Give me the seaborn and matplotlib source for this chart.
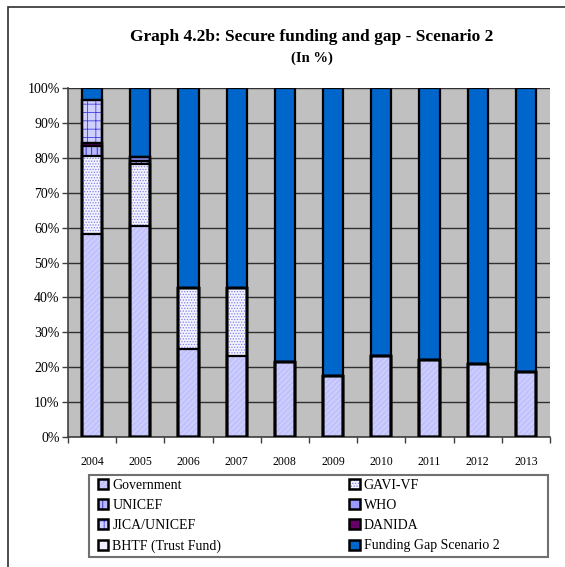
import numpy as np
import pandas as pd
import matplotlib
matplotlib.use("Agg")
import matplotlib.pyplot as plt
import matplotlib.patches as mpatches
from matplotlib.legend_handler import HandlerTuple
import seaborn as sns

years = ["2004", "2005", "2006", "2007", "2008", "2009", "2010", "2011", "2012", "2013"]
government = [58.2, 60.6, 25.1, 23.3, 21.6, 17.5, 23.2, 22.0, 20.9, 18.6]
gavi_vf    = [22.3, 17.5, 17.7, 19.5, 0, 0, 0, 0, 0, 0]
unicef     = [2.9, 1.1, 0, 0, 0, 0, 0, 0, 0, 0]
who        = [0, 1.0, 0, 0, 0, 0, 0, 0, 0, 0]
jica       = [12.3, 0, 0, 0, 0, 0, 0, 0, 0, 0]
danida     = [0.9, 0, 0, 0, 0, 0, 0, 0, 0, 0]
bhtf       = [0, 0, 0, 0, 0, 0, 0, 0, 0, 0]
gap        = [3.4, 19.8, 57.2, 57.2, 78.4, 82.5, 76.8, 78.0, 79.1, 81.4]

# stacking order bottom -> top
series = [
    ("Government", government, "#C2C2FC", "#DADAFF", "//////"),
    ("GAVI-VF", gavi_vf, "#F4F4FF", "#8080F0", "......"),
    ("UNICEF", unicef, "#B8B8FF", "#2020C0", "|||"),
    ("DANIDA", danida, "#660066", None, None),
    ("WHO", who, "#9999FF", None, None),
    ("JICA/UNICEF", jica, "#D0D0FF", "#4040E0", "++"),
    ("BHTF (Trust Fund)", bhtf, "#EEEEFF", None, None),
    ("Funding Gap Scenario 2", gap, "#0066CC", None, None),
]

plt.rcParams["font.family"] = ["Liberation Serif", "DejaVu Serif"]
plt.rcParams["hatch.linewidth"] = 0.6

W, H = 565, 567
fig = plt.figure(figsize=(W / 100, H / 100), dpi=100)
ax = fig.add_axes([68 / W, (H - 437) / H, 482 / W, 349 / H])
ax.set_facecolor("#C0C0C0")

cum = np.zeros(len(years))
cums = []
for name, vals, fc, hc, hatch in series:
    cum = cum + np.array(vals, dtype=float)
    cums.append(cum.copy())

bw = 0.42
for (name, vals, fc, hc, hatch), c in reversed(list(zip(series, cums))):
    d = pd.DataFrame({"year": years, "v": c})
    if hatch:
        sns.barplot(data=d, x="year", y="v", ax=ax, color=fc, saturation=1,
                    width=bw, edgecolor=hc, hatch=hatch, linewidth=0, errorbar=None, zorder=2)
    else:
        sns.barplot(data=d, x="year", y="v", ax=ax, color=fc, saturation=1,
                    width=bw, linewidth=0, errorbar=None, zorder=2)
    sns.barplot(data=d, x="year", y="v", ax=ax, facecolor="none", saturation=1,
                width=bw, edgecolor="black", linewidth=1.6, errorbar=None, zorder=3)

ax.set_xlim(-0.5, 9.5)
ax.set_ylim(0, 100)
ax.set_yticks(np.arange(0, 101, 10))
ax.set_yticklabels([f"{v}%" for v in range(0, 101, 10)], fontsize=10)
ax.yaxis.grid(True, color="#303030", linewidth=1.0, zorder=1)
ax.set_axisbelow(True)
ax.xaxis.grid(False)
ax.set_xlabel("")
ax.set_ylabel("")
ax.set_xticks(range(10))
ax.set_xticklabels(years, fontsize=8.5)
ax.set_xticks(np.arange(-0.5, 10, 1), minor=True)
ax.tick_params(axis="x", which="major", length=0, pad=14)
ax.tick_params(axis="x", which="minor", length=4, width=1, color="#404040", direction="out")
ax.tick_params(axis="y", length=4, width=1, color="#404040", direction="out", pad=2)
for s in ["top", "right"]:
    ax.spines[s].set_visible(False)
for s in ["left", "bottom"]:
    ax.spines[s].set_color("#404040")
    ax.spines[s].set_linewidth(1.2)

fig.text(312 / W, 1 - 37 / H, "Graph 4.2b: Secure funding and gap - Scenario 2",
         ha="center", va="center", fontsize=12.5, fontweight="bold")
fig.text(312 / W, 1 - 58 / H, "(In %)", ha="center", va="center",
         fontsize=10.5, fontweight="bold")

# legend
lookup = {s[0]: s for s in series}
order = ["Government", "UNICEF", "JICA/UNICEF", "BHTF (Trust Fund)",
         "GAVI-VF", "WHO", "DANIDA", "Funding Gap Scenario 2"]
handles = []
for n in order:
    _, _, fc, hc, hatch = lookup[n]
    outline = mpatches.Patch(facecolor="none", edgecolor="black", linewidth=1.8)
    if hatch:
        fill = mpatches.Patch(facecolor=fc, edgecolor=hc, linewidth=0, hatch=hatch)
    else:
        fill = mpatches.Patch(facecolor=fc, edgecolor="none", linewidth=0)
    handles.append((fill, outline))
leg = fig.legend(handles=handles, labels=order, ncol=2, loc="upper left",
                 bbox_to_anchor=(95 / W, 1 - 476 / H),
                 handler_map={tuple: HandlerTuple(ndivide=1)},
                 fontsize=10, frameon=False,
                 handlelength=0.75, handleheight=0.75, handletextpad=0.3,
                 labelspacing=0.52, borderaxespad=0, borderpad=0.2, columnspacing=9.2)

# legend frame
fig.patches.append(mpatches.Rectangle((89 / W, (H - 557) / H), 459 / W, 82 / H,
                                      transform=fig.transFigure, fill=False,
                                      edgecolor="#707070", linewidth=1.5))

# outer figure border
fig.patches.append(mpatches.Rectangle((8 / W, -0.05), 1.2, 1 - 7 / H + 0.05,
                                      transform=fig.transFigure, fill=False,
                                      edgecolor="#303030", linewidth=1.2))

fig.savefig("out.png", dpi=100)
